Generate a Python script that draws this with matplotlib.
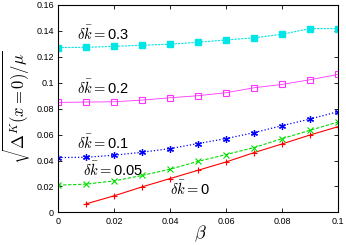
import numpy as np
import matplotlib
matplotlib.use("Agg")
import matplotlib.pyplot as plt

plt.rcParams["font.family"] = ["Liberation Sans", "DejaVu Sans"]
plt.rcParams["mathtext.fontset"] = "cm"

beta = [0.0, 0.01, 0.02, 0.03, 0.04, 0.05, 0.06, 0.07, 0.08, 0.09, 0.1]

dk0 = [0.0066, 0.0128, 0.0197, 0.0261, 0.0325, 0.0389, 0.0461, 0.0528, 0.0597, 0.0661]
dk005 = [0.0210, 0.0218, 0.0243, 0.0285, 0.0333, 0.0394, 0.0446, 0.0500, 0.0569, 0.0633, 0.0697]
dk01 = [0.0423, 0.0425, 0.0441, 0.0464, 0.0492, 0.0531, 0.0569, 0.0615, 0.0669, 0.0720, 0.0777]
dk02 = [0.0848, 0.0851, 0.0853, 0.0866, 0.0884, 0.0900, 0.0923, 0.0961, 0.0987, 0.1023, 0.1064]
dk03 = [0.1271, 0.1273, 0.1280, 0.1289, 0.1297, 0.1312, 0.1330, 0.1346, 0.1374, 0.1417, 0.1417]

labels = ["0", "0.05", "0.1", "0.2", "0.3"]
label_pos = [(0.040, 0.0185), (0.0088, 0.0325), (0.0067, 0.0535), (0.0067, 0.0963), (0.0067, 0.138)]

fig = plt.figure(figsize=(3.46, 2.45), dpi=100)
ax = fig.add_axes([0.168, 0.133, 0.809, 0.847])

ax.plot(beta[1:], dk0, color="red", ls="-", lw=0.8, marker="+", ms=5, mew=0.8)
ax.plot(beta, dk005, color="#00dd00", ls="--", lw=0.8, marker="x", ms=4, mew=0.8, dashes=(3, 1.5))
ax.plot(beta, dk01, color="blue", ls=":", lw=0.9, marker=(6, 2, 0), ms=5, mew=0.9)
ax.plot(beta, dk02, color="#ff33ff", ls="-", lw=0.6, marker="s", ms=5, mfc="none", mew=0.8)
ax.plot(beta, dk03, color="#00e5e5", ls="--", lw=0.8, marker="s", ms=4.5, dashes=(2, 1))

for lab, (x, y) in zip(labels, label_pos):
    ax.text(x, y, r"$\delta\bar{k}=$" + lab, fontsize=10.5, va="center", ha="left")

ax.set_xlim(0, 0.1)
ax.set_ylim(0, 0.16)
ax.set_xticks([0, 0.02, 0.04, 0.06, 0.08, 0.1])
ax.set_xticklabels(["0", "0.02", "0.04", "0.06", "0.08", "0.1"])
ax.set_yticks([0, 0.02, 0.04, 0.06, 0.08, 0.1, 0.12, 0.14, 0.16])
ax.set_yticklabels(["0", "0.02", "0.04", "0.06", "0.08", "0.1", "0.12", "0.14", "0.16"])
ax.tick_params(direction="in", top=True, right=True, labelsize=6.5, length=3, width=0.6, pad=3)
for s in ax.spines.values():
    s.set_linewidth(0.8)

fig.text(0.578, 0.005, r"$\beta$", fontsize=13, ha="center", va="bottom")
fig.text(0.045, 0.56, r"$\sqrt{\Delta^K(x=0)/\mu}$", fontsize=12,
         rotation=90, ha="center", va="center")

fig.savefig("out.png", dpi=100)
